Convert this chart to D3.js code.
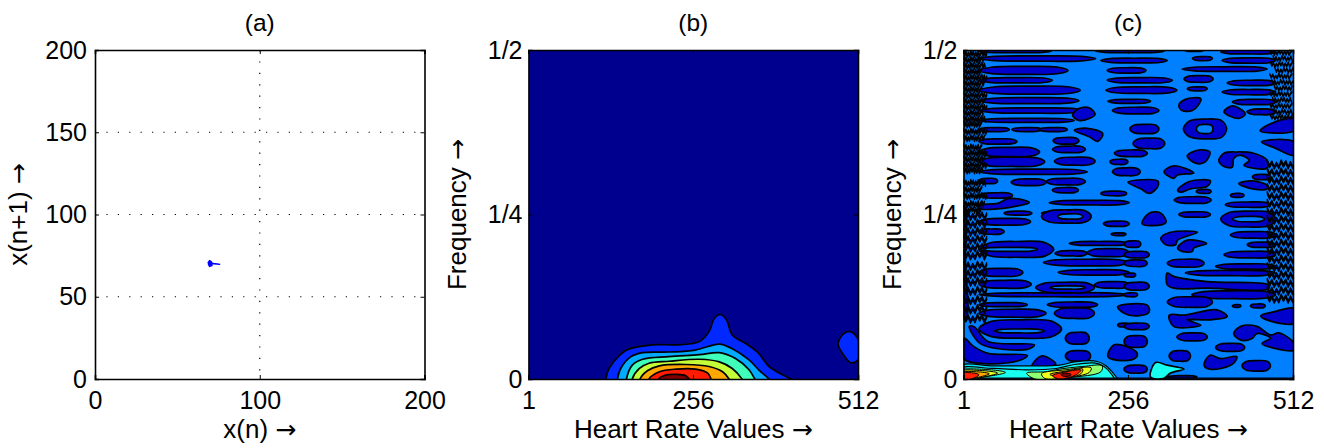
<!DOCTYPE html>
<html>
<head>
<meta charset="utf-8">
<script src="https://cdn.jsdelivr.net/npm/d3@7"></script>
<style>
  html, body { margin: 0; background: #fff; }
  svg { display: block; }
  text { font-family: "Liberation Sans", Arial, sans-serif; fill: #000; }
  tspan.arrow { font-family: "DejaVu Sans", sans-serif; font-size: 25px; }
</style>
</head>
<body>
<div id="chart"></div>
<script>
// Panel (a): return map of the heart rate, x(n) against x(n+1)
const mapPoints = [[68.5,70.5],[69.5,72],[70.5,71.5],[71,69],[69.5,68.5],[68.8,70],[70,71],[71,70.5],[72,70.3],[76,69.7],[72,70],[70,70.5]];
const mapTicksX = [0, 100, 200];
const mapTicksY = [0, 50, 100, 150, 200];

// Panels (b) and (c): frequency is kept in thousandths (500 = 1/2)
const hrTicks = [1, 256, 512];
const freqTicks = [[0, '0'], [250, '1/4'], [500, '1/2']];

// Panel (b): filled contour levels, outermost first
const levelColors = ['#0028ff', '#00aaff', '#40ffb8', '#c4ff38', '#ffa800', '#ff1c00', '#800000'];
const bLevels = [
  [[121,-6],[121,0],[126,16],[142,36],[155,45],[193,52],[235,52],[266,57],[281,72],[289,92],[299,98],[308,90],[317,67],[338,54],[358,39],[374,19],[408,0],[420,-6]],
  [[139,-6],[139,0],[144,16],[160,34],[178,40],[219,41],[260,44],[297,53],[317,46],[343,29],[358,14],[374,0],[380,-6]],
  [[153,-6],[153,0],[162,21],[178,30],[219,34],[266,37],[297,40],[322,31],[343,14],[352,0],[356,-6]],
  [[162,-6],[162,0],[173,16],[188,24],[219,27],[266,30],[297,26],[317,16],[332,0],[335,-6]],
  [[174,-6],[174,0],[186,13],[204,20],[245,22],[281,19],[302,11],[312,0],[315,-6]],
  [[188,-6],[188,0],[204,11],[230,15],[260,15],[279,9],[284,0],[286,-6]],
  [[203,-4],[203,0],[214,6],[230,7],[245,5],[250,0],[252,-4]]
];
const bSideLobe = [[481,54],[490,69],[500,72],[510,64],[516,45],[510,27],[500,25],[490,36]];

// Panel (c): lens shaped lobes as [hr start, hr end, frequency, half thickness]
const cLobes = [
  [25,137,498,2],[25,206,487,4],[206,312,498,2],[214,317,484,3.5],[25,163,469,6],[25,139,454,4],
  [25,182,439,6],[25,180,423,4.5],[25,190,408,4],[25,173,393,3],[25,72,379,3],[76,122,379,3],[118,162,379,3],
  [140,180,362,5],[139,190,349,5],[25,84,361,4],[25,119,345,7],[25,127,330,7],[142,205,331,6],
  [25,193,315,4],[25,54,301,4],[75,129,299,5],[129,190,300,5],[139,179,287,4],[25,77,279,4],
  [214,254,282,3.5],[134,258,268,3.5],[64,107,252,3],[122,190,252,3],
  [235,286,343,5],[228,256,330,4],[232,275,315,6],[224,325,454,4],[222,332,439,5],[225,291,422,3],
  [232,304,408,5],[224,284,469,4],
  [343,374,500,2],[356,387,487,3],[340,472,471,3.5],[343,388,456,5],[348,379,441,3],
  [259,304,380,7],[264,313,358,8],[362,385,285,3],[415,436,279,3],[328,385,272,5],
  [449,477,307,4],[407,477,265,4],[400,485,497,3],[402,485,484,4],[410,485,450,4],[402,485,436,4],
  [418,485,421,4],[441,485,406,4],
  [25,105,239,5],[218,258,236,4],[230,253,220,2],[25,64,224,4],[143,193,191,4],[165,258,206,3],
  [193,258,192,6],[125,258,177,5],[148,258,162,4],[25,93,162,6],[25,106,144,6],[204,258,143,5],
  [25,258,128,3],[25,100,113,3],[131,209,113,4],[25,129,100,6],[142,204,100,8],[240,258,82,3],
  [159,196,62,9],[159,198,35,8],
  [250,276,205,5],[250,289,189,5],[250,286,176,5],[441,485,204,4],[405,485,189,5],[317,374,176,6],
  [392,485,171,4],[345,485,161,4],[250,268,158,3],[250,289,141,6],[250,271,128,3],[355,485,128,6],
  [317,387,117,8],[418,431,111,2],[446,469,111,3],[250,289,80,5],[332,379,64,6],[250,286,57,9],
  [392,437,48,6],[320,353,35,8],[250,270,36,4],[433,477,20,8],[250,286,15,6],[317,363,3,2],
  [335,384,250,4],[415,485,219,5],[441,485,406,4]
];
// rings: outer lobe with a lighter hole inside
const cRings = [
  [[342,409,380,15],[362,388,380,7]],
  [[122,199,247,10],[147,186,247,4]],
  [[25,141,197,12],[25,116,197,3]],
  [[113,204,139,8],[135,190,139,2.5]],
  [[25,153,76,14],[49,126,73,3]],
  [[400,485,243,12],[418,468,243,4]]
];
// free form lobes as [hr, frequency]
const cBlobs = [
  [[170,401],[180,411],[196,412],[205,402],[196,396],[180,393]],
  [[173,378],[193,381],[217,373],[209,361],[196,368]],
  [[25,264],[54,267],[70,274],[90,273],[103,268],[85,263],[59,259],[25,259]],
  [[335,416],[345,425],[369,426],[365,416],[356,408],[340,408]],
  [[348,339],[366,348],[383,345],[376,330],[361,328]],
  [[397,332],[405,343],[425,345],[451,343],[472,332],[472,321],[446,321],[436,325],[444,332],[431,340],[420,335],[418,322],[405,323]],
  [[312,315],[327,324],[358,313],[333,310],[327,305]],
  [[256,299],[302,301],[302,292],[289,282],[276,289]],
  [[333,287],[351,300],[384,301],[379,293],[353,289],[338,284]],
  [[428,297],[449,301],[472,294],[472,289],[449,289]],
  [[405,406],[418,415],[438,403],[428,396]],
  [[461,377],[477,388],[514,396],[514,378],[477,374]],
  [[463,360],[487,364],[514,360],[514,340],[482,352]],
  [[10,80],[18,79],[39,57],[111,52],[100,45],[39,49],[23,57]],
  [[2,62],[16,50],[39,39],[100,36],[90,29],[39,23],[1,31]],
  [[-4,262],[3,262],[4,180],[5,92],[-4,92]],
  [[225,34],[235,52],[270,40],[268,32],[250,28]],
  [[107,19],[122,35],[144,23],[126,16]],
  [[278,236],[289,252],[307,252],[315,238],[294,233]],
  [[307,214],[322,223],[364,223],[333,211],[330,204],[315,204]],
  [[333,199],[348,211],[378,206],[358,199],[356,194],[340,194]],
  [[317,161],[327,156],[379,148],[474,143],[474,137],[379,138],[327,138],[317,143]],
  [[240,110],[286,112],[289,102],[271,96],[250,100]],
  [[320,97],[343,97],[394,105],[410,95],[384,90],[348,90],[369,82],[327,80]],
  [[462,96],[482,102],[514,107],[514,85],[477,88]],
  [[420,69],[431,80],[456,80],[477,67],[490,70],[514,54],[514,44],[482,47],[464,54],[477,62],[456,69],[449,62],[431,59]],
  [[374,21],[383,36],[400,31],[425,34],[420,24],[400,16],[379,16]]
];
// dense zig-zag rows at the two edges of panel (c), as frequencies
const leftDense = [494,485,476,467,458,449,440,431,422,413,404,395,387,376,366,352,343,334,325,317,298,288,278,266,257];
const leftWaves = [248,236,224,212,200,188,172,160,148,134,120,106,92];
const rightDense = [496,487,478,469,460,451,442,433,424,415,406,398];
const rightWaves = [326,314,302,290,278,266,254,242,230,218,206,194,182,170,158,146,134,122];
const zigPattern = [1, -.6, .7, -1, .3, -.9, 1, -.4, .8, -1, .5, -.8, .9, -1, .2];
const rowEnds = [38, 33, 37, 30, 38, 35, 31, 38, 34];

// Bottom ridge of panel (c), outermost first
const cRidgeColors = ['#00e0ff', '#18fff0'];
const cRidge = [
  [[-5,20],[47,20],[98,20],[150,21],[173,26],[207,27],[222,20],[238,3],[244,-5],[-5,-5]],
  [[-5,16],[47,16],[98,14],[145,16],[173,22],[206,24],[219,19],[230,8],[236,-5],[-5,-5]]
];
const cRidgeHot = [
  ['#90ff70', [[-8,12],[26,15],[66,10],[26,2],[-8,-2]]],
  ['#e8ff20', [[-8,11],[26,13],[54,9],[26,2],[-8,-2]]],
  ['#ffa800', [[-8,9],[21,11],[41,8],[21,2],[-8,-2]]],
  ['#ff2000', [[-8,8],[13,9.5],[25,6.5],[16,1],[-8,-2]]],
  ['#90ff70', [[99,9],[129,11],[150,15],[186,19],[216,20],[214,11],[165,2.4],[112,0]]],
  ['#e8ff20', [[122,8],[160,14],[199,17],[196,10],[160,2],[127,1]]],
  ['#ffa800', [[135,7],[160,12],[186,15],[183,8],[160,2]]],
  ['#ff2000', [[139,5],[160,11],[183,13.6],[175,6],[150,0]]],
  ['#800000', [[152,6.5],[160,9],[168,6.5],[160,3.4]]]
];
const cCyanLobe = [[291,3],[299,25],[317,21],[343,15],[322,9],[312,1]];
const cBottomStrip = [[-5,1.2],[520,1.2],[520,-4],[-5,-4]];

const dims = { width: 1324, height: 448, top: 50, plotHeight: 329, plotWidth: 329.5 };
const panelLeft = { a: 95, b: 528.5, c: 963.5 };
const bgC = '#0080ff', lobeC = '#0000cc', bgB = '#00008f';

const svg = d3.select('#chart').append('svg')
  .attr('width', dims.width)
  .attr('height', dims.height);

function panel(name, left) {
  const g = svg.append('g').attr('transform', `translate(${left}, ${dims.top})`);
  g.append('clipPath').attr('id', `clip-${name}`)
    .append('rect').attr('width', dims.plotWidth).attr('height', dims.plotHeight);
  return { g, plot: g.append('g').attr('clip-path', `url(#clip-${name})`) };
}

function withArrow(sel, label) {
  sel.append('tspan').text(label + ' ');
  sel.append('tspan').attr('class', 'arrow').text('\u2192');
}

function frame(g, xAxisScale, yAxisScale, xTicks, yTicks, yFormat, xLabel, yLabel, title, labelX, yPad) {
  const xAxis = d3.axisBottom(xAxisScale).tickValues(xTicks).tickSize(-4).tickPadding(12).tickFormat(d => d);
  const yAxis = d3.axisLeft(yAxisScale).tickValues(yTicks).tickSize(-4).tickPadding(yPad).tickFormat(yFormat);
  const gx = g.append('g').attr('transform', `translate(0, ${dims.plotHeight})`).call(xAxis);
  const gy = g.append('g').call(yAxis);
  g.append('g').call(d3.axisTop(xAxisScale).tickValues(xTicks).tickSize(-4).tickFormat(''));
  g.append('g').attr('transform', `translate(${dims.plotWidth}, 0)`)
    .call(d3.axisRight(yAxisScale).tickValues(yTicks).tickSize(-4).tickFormat(''));
  g.selectAll('.domain').attr('stroke', '#000').attr('stroke-width', 1.6);
  g.selectAll('.tick line').attr('stroke', '#000');
  gx.selectAll('text').style('font-size', '25px');
  gy.selectAll('text').style('font-size', '25px');
  g.append('text').attr('x', dims.plotWidth / 2).attr('y', dims.plotHeight + 59)
    .attr('text-anchor', 'middle').style('font-size', '26px').call(withArrow, xLabel);
  g.append('text').attr('x', dims.plotWidth / 2).attr('y', -19)
    .attr('text-anchor', 'middle').style('font-size', '24.5px').text(title);
  g.append('text').attr('transform', `translate(${labelX}, ${dims.plotHeight / 2}) rotate(-90)`)
    .attr('text-anchor', 'middle').style('font-size', '26px').call(withArrow, yLabel);
}

// (a) return map
const xA = d3.scaleLinear().domain([0, 200]).range([0, dims.plotWidth]);
const yA = d3.scaleLinear().domain([0, 200]).range([dims.plotHeight, 0]);
const pa = panel('a', panelLeft.a);
pa.plot.selectAll('.grid-x').data(mapTicksX.slice(1, -1)).join('line')
  .attr('x1', d => xA(d)).attr('x2', d => xA(d)).attr('y1', 0).attr('y2', dims.plotHeight)
  .attr('stroke', '#000').attr('stroke-width', 1.2).attr('stroke-dasharray', '1.2 10.2');
pa.plot.selectAll('.grid-y').data(mapTicksY.slice(1, -1)).join('line')
  .attr('y1', d => yA(d)).attr('y2', d => yA(d)).attr('x1', 0).attr('x2', dims.plotWidth)
  .attr('stroke', '#000').attr('stroke-width', 1.2).attr('stroke-dasharray', '1.2 10.2');
pa.plot.append('path').datum(mapPoints)
  .attr('d', d3.line().x(d => xA(d[0])).y(d => yA(d[1])))
  .attr('fill', '#0000ff').attr('stroke', '#0000ff').attr('stroke-width', 1.4);
frame(pa.g, xA, yA, mapTicksX, mapTicksY, d => d, 'x(n)', 'x(n+1)', '(a)', -68, 8);

// shared scales for the two time-frequency panels
const xHr = d3.scaleLinear().domain([1, 512]).range([0, dims.plotWidth]);
const yF = d3.scaleLinear().domain([0, 500]).range([dims.plotHeight, 0]);
const smooth = d3.line().x(d => xHr(d[0])).y(d => yF(d[1])).curve(d3.curveCatmullRomClosed.alpha(0.5));
const sharp = d3.line().x(d => xHr(d[0])).y(d => yF(d[1])).curve(d3.curveLinearClosed);
const freqLabel = d => freqTicks.find(t => t[0] === d)[1];

function lens(l) {
  const [h0, h1, f, hw] = l;
  const w = h1 - h0;
  return [[h0, f], [h0 + w * .14, f + hw * .8], [h0 + w * .5, f + hw], [h1 - w * .12, f + hw * .85],
          [h1, f], [h1 - w * .12, f - hw * .85], [h0 + w * .5, f - hw], [h0 + w * .14, f - hw * .8]];
}

function zigzag(h0, h1, f, hw, amp, step) {
  const top = [], bottom = [];
  let i = 0;
  for (let h = h0; h <= h1; h += step, i++) {
    const z = zigPattern[i % zigPattern.length] * amp;
    top.push([h, f + hw + z]);
    bottom.unshift([h, f - hw + z]);
  }
  return top.concat(bottom);
}

function fillShape(sel, pts, fill, gen, width) {
  sel.append('path').datum(pts).attr('d', gen || smooth)
    .attr('fill', fill).attr('stroke', '#000').attr('stroke-width', width || 1.7)
    .attr('stroke-linejoin', 'round');
}

// (b) low frequency contour
const pb = panel('b', panelLeft.b);
pb.plot.append('rect').attr('width', dims.plotWidth).attr('height', dims.plotHeight).attr('fill', bgB);
bLevels.forEach((lv, i) => fillShape(pb.plot, lv, levelColors[i]));
fillShape(pb.plot, bSideLobe, levelColors[0]);
frame(pb.g, xHr, yF, hrTicks, freqTicks.map(t => t[0]), freqLabel, 'Heart Rate Values', 'Frequency', '(b)', -63, 6);

// (c) cross terms everywhere
const pc = panel('c', panelLeft.c);
pc.plot.append('rect').attr('width', dims.plotWidth).attr('height', dims.plotHeight).attr('fill', bgC);
cLobes.forEach(l => fillShape(pc.plot, lens(l), lobeC));
cBlobs.forEach(b => fillShape(pc.plot, b, lobeC));
cRings.forEach(r => {
  fillShape(pc.plot, lens(r[0]), lobeC);
  fillShape(pc.plot, lens(r[1]), bgC);
});
leftDense.forEach((f, i) => fillShape(pc.plot, zigzag(1, rowEnds[i % rowEnds.length], f, 1.4, 4, 1.9), lobeC, sharp, 1.2));
leftWaves.forEach(f => fillShape(pc.plot, zigzag(1, 38, f, 2.2, 5, 3.6), lobeC, sharp, 1.2));
rightDense.forEach((f, i) => fillShape(pc.plot, zigzag(514 - rowEnds[i % rowEnds.length], 512, f, 1, 3.5, 2.3), lobeC, sharp, 1.1));
rightWaves.forEach(f => fillShape(pc.plot, zigzag(472, 512, f, 2, 5, 3.6), lobeC, sharp, 1.2));
cRidge.forEach((r, i) => fillShape(pc.plot, r, cRidgeColors[i], smooth, 1.2));
fillShape(pc.plot, cBottomStrip, lobeC, sharp, 1.2);
cRidgeHot.forEach(r => fillShape(pc.plot, r[1], r[0], smooth, 1));
fillShape(pc.plot, cCyanLobe, '#18fff0');
frame(pc.g, xHr, yF, hrTicks, freqTicks.map(t => t[0]), freqLabel, 'Heart Rate Values', 'Frequency', '(c)', -63, 6);
</script>
</body>
</html>
